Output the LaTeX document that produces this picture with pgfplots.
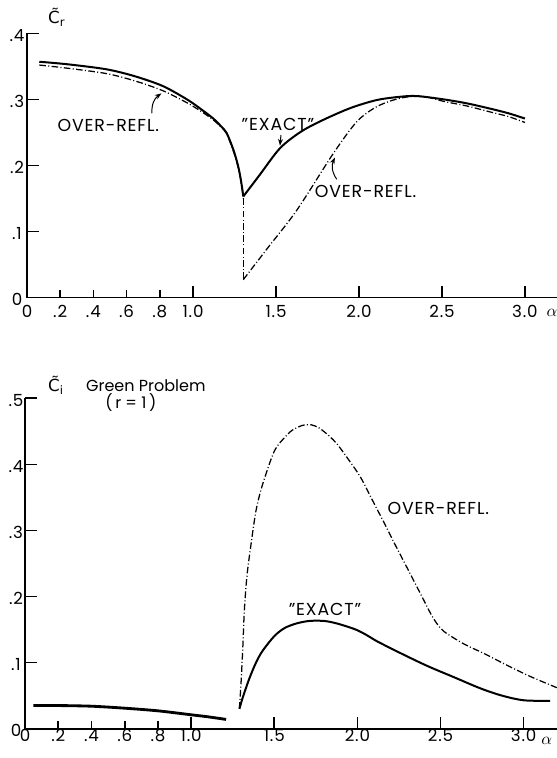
\documentclass[border=0pt]{standalone}
\usepackage{pgfplots}
\pgfplotsset{compat=1.18}
\usepackage{fontspec}
\setmainfont{Poppins}[LetterSpace=5]
\newfontfamily\plainfont{Poppins}
\newfontfamily\accfont{DejaVu Sans}
\usetikzlibrary{arrows.meta}

\newcommand{\lbl}{\fontsize{10.4}{12}\selectfont}
\newcommand{\smalltxt}{\plainfont\fontsize{9.6}{11}\selectfont}
% C with tilde and a subscript
\newcommand{\ctilde}[1]{{\accfont\fontsize{10}{12}\selectfont C̃\textsubscript{#1}}}

\tikzset{pointer/.style={-{Stealth[length=4pt,width=3pt]}, line width=0.6pt}}

\pgfplotsset{
  panel/.style={
    scale only axis,
    axis lines=left,
    axis line style={-, line width=1.0pt},
    tick align=inside,
    major tick length=7pt,
    tick style={line width=1.0pt, black},
    xmin=0, ymin=0,
    clip=false,
    xtick={1.0,1.5,2.0,2.5,3.0},
    xticklabels={1.0,1.5,2.0,2.5,3.0},
    extra x ticks={0,0.2,0.4,0.6,0.8},
    extra x tick labels={0,.2,.4,.6,.8},
    extra x tick style={major tick length=4.5pt},
    tick label style={font=\fontsize{10}{11}\selectfont},
  },
  exact/.style={black, line width=1.2pt, smooth, tension=0.5},
  over/.style={black, line width=0.75pt, smooth, tension=0.5,
    dash pattern=on 4pt off 1.4pt on 0.6pt off 1.4pt},
}

\begin{document}
\begin{tikzpicture}
\path[use as bounding box] (0,0) rectangle (334.2pt,-454.8pt);

% ---------------- real part ----------------
\begin{axis}[panel,
  at={(16.2pt,-178.5pt)}, anchor=south west,
  width=318pt, height=158.5pt,
  xmax=3.193, ymax=0.4,
  ytick={0,0.1,0.2,0.3,0.4}, yticklabels={0,.1,.2,.3,.4},
  yticklabel style={anchor=center, xshift=-6pt, yshift=-1.2pt},
  xticklabel style={anchor=base, yshift=-12pt},
]
% "exact" solution
\addplot[exact] coordinates {
  (0.074,0.357) (0.25,0.353) (0.48,0.3455) (0.65,0.335) (0.82,0.320)
  (0.97,0.299) (1.06,0.283) (1.122,0.271) (1.17,0.259) (1.203,0.249)
  (1.243,0.224) (1.27,0.201) (1.285,0.183) (1.296,0.166) (1.303,0.153)};
\addplot[exact] coordinates {
  (1.303,0.153) (1.40,0.185) (1.524,0.226) (1.65,0.251) (1.785,0.269)
  (1.95,0.287) (2.107,0.299) (2.25,0.304) (2.35,0.305) (2.51,0.300)
  (2.65,0.294) (2.79,0.286) (2.90,0.279) (3.0,0.271)};
% over-reflection approximation
\addplot[over] coordinates {
  (0.074,0.352) (0.25,0.347) (0.48,0.339) (0.65,0.328) (0.82,0.313)
  (0.97,0.294) (1.06,0.280) (1.122,0.269) (1.17,0.258) (1.203,0.248)
  (1.243,0.222) (1.27,0.199) (1.285,0.182) (1.296,0.165) (1.303,0.150)};
\addplot[over, sharp plot] coordinates {(1.303,0.150) (1.303,0.027)};
\addplot[over] coordinates {
  (1.303,0.027) (1.45,0.075) (1.625,0.132) (1.845,0.218) (1.986,0.266)
  (2.10,0.288) (2.207,0.299) (2.30,0.304) (2.40,0.304) (2.51,0.297)
  (2.65,0.290) (2.79,0.281) (2.90,0.274) (3.0,0.265)};

\node at (axis cs:0.18,0.424) {\ctilde{r}};
\node at (axis cs:0.49,0.260) {\lbl OVER-REFL.};
\draw[pointer] (axis cs:0.753,0.279) to[bend left=30] (axis cs:0.81,0.309);
\node at (axis cs:1.512,0.262) {\lbl "EXACT"};
\draw[pointer] (axis cs:1.53,0.246) -- (axis cs:1.524,0.230);
\node at (axis cs:2.04,0.160) {\lbl OVER-REFL.};
\draw[pointer] (axis cs:1.866,0.179) to[bend left=30] (axis cs:1.855,0.212);
\node[anchor=base west, inner sep=0pt] at (axis cs:3.128,-0.0295) {\lbl$\alpha$};
\end{axis}

% ---------------- imaginary part ----------------
\begin{axis}[panel,
  at={(15pt,-437.2pt)}, anchor=south west,
  width=319.2pt, height=198.24pt,
  xmax=3.201, ymax=0.5,
  ytick={0,0.1,0.2,0.3,0.4,0.5}, yticklabels={0,.1,.2,.3,.4,.5},
  yticklabel style={anchor=center, xshift=-5.4pt, yshift=-1.2pt},
  xticklabel style={anchor=base, yshift=-7.8pt},
]
\addplot[exact, line width=1.7pt] coordinates {
  (0.05,0.035) (0.2,0.035) (0.4,0.034) (0.6,0.031) (0.8,0.027)
  (1.0,0.021) (1.1,0.018) (1.21,0.014)};
\addplot[exact] coordinates {
  (1.29,0.030) (1.31,0.047) (1.35,0.076) (1.39,0.100) (1.43,0.118)
  (1.50,0.140) (1.56,0.152) (1.63,0.159) (1.71,0.163) (1.80,0.163)
  (1.88,0.159) (1.99,0.150) (2.06,0.141) (2.12,0.132) (2.27,0.113)
  (2.42,0.095) (2.58,0.078) (2.74,0.061) (2.87,0.050) (3.0,0.043)
  (3.16,0.042)};
\addplot[over] coordinates {
  (1.29,0.030) (1.30,0.070) (1.31,0.120) (1.32,0.180) (1.335,0.230)
  (1.355,0.270) (1.39,0.330) (1.43,0.370) (1.50,0.420) (1.56,0.440)
  (1.61,0.452) (1.67,0.459) (1.72,0.460) (1.77,0.455) (1.83,0.443)
  (1.88,0.430) (1.95,0.406) (2.02,0.380) (2.10,0.341) (2.16,0.312)
  (2.23,0.277) (2.30,0.243) (2.38,0.204) (2.45,0.170) (2.50,0.152)
  (2.55,0.142) (2.65,0.127) (2.76,0.114) (2.90,0.096) (3.04,0.079)
  (3.20,0.062)};

\node at (axis cs:0.187,0.519) {\ctilde{i}};
\node at (axis cs:0.727,0.519) {\smalltxt Green Problem};
\node at (axis cs:0.637,0.494) {\smalltxt (\,r = 1\,)};
\node at (axis cs:2.487,0.333) {\lbl OVER-REFL.};
\node at (axis cs:1.805,0.180) {\lbl "EXACT"};
\node[anchor=base west, inner sep=0pt] at (axis cs:3.105,-0.0247) {\lbl$\alpha$};
\end{axis}
\end{tikzpicture}
\end{document}
